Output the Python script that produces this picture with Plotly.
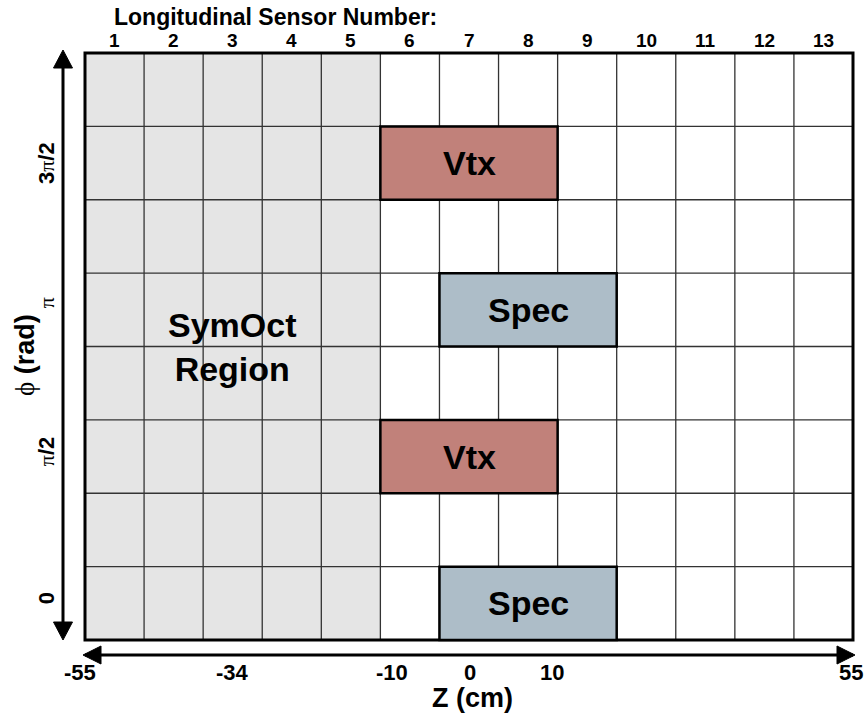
import plotly.graph_objects as go

# ---- detector layout data ----
sensor_numbers = list(range(1, 14))          # longitudinal sensor columns
n_phi_bins = 8                                # azimuthal rows
symoct_sensors = [1, 2, 3, 4, 5]              # shaded SymOct region
module_names = ["Spec", "Vtx", "Spec", "Vtx"]
module_first_sensor = [7, 6, 7, 6]
module_last_sensor = [9, 8, 9, 8]
module_phi_bin = [0, 2, 4, 6]                 # counted from phi = 0 (bottom)
module_colors = {"Vtx": "#c1817a", "Spec": "#adbdc8"}

z_tick_labels = ["-55", "-34", "-10", "0", "10", "55"]
z_tick_pos = [-0.08, 2.49, 5.2, 6.52, 7.9, 12.97]     # sensor-column units
phi_tick_labels = ["0", "π/2", "π", "3π/2"]
phi_tick_pos = [0.57, 2.56, 4.59, 6.5]                # phi-bin units

# ---- geometry of the canvas (pixels per unit) ----
W, H = 868, 713
UX = 768 / len(sensor_numbers)
UY = 587 / n_phi_bins
X0, YB = 85, 640
xr = [-X0 / UX, (W - X0) / UX]
yr = [-(H - YB) / UY, YB / UY]


def px(p):
    return p / UX


def py(p):
    return p / UY


SANS = "Liberation Sans, Arial, sans-serif"
SERIF = "Liberation Serif, Times New Roman, serif"

fig = go.Figure()
shapes = []
annotations = []

n_cols = len(sensor_numbers)

# shaded SymOct region
shapes.append(dict(type="rect", x0=min(symoct_sensors) - 1, x1=max(symoct_sensors),
                   y0=0, y1=n_phi_bins, fillcolor="#e5e5e5",
                   line=dict(width=0), layer="below"))

# grid lines
for i in range(1, n_cols):
    shapes.append(dict(type="line", x0=i, x1=i, y0=0, y1=n_phi_bins,
                       line=dict(color="#333333", width=1.3)))
for j in range(1, n_phi_bins):
    shapes.append(dict(type="line", x0=0, x1=n_cols, y0=j, y1=j,
                       line=dict(color="#333333", width=1.3)))

# outer frame
shapes.append(dict(type="rect", x0=0, x1=n_cols, y0=0, y1=n_phi_bins,
                   line=dict(color="black", width=3)))

# modules
for name, s0, s1, b in zip(module_names, module_first_sensor,
                           module_last_sensor, module_phi_bin):
    shapes.append(dict(type="rect", x0=s0 - 1, x1=s1, y0=b, y1=b + 1,
                       fillcolor=module_colors[name],
                       line=dict(color="black", width=2.5)))
    annotations.append(dict(x=(s0 - 1 + s1) / 2, y=b + 0.5, text=f"<b>{name}</b>",
                            showarrow=False, font=dict(family=SANS, size=34, color="black")))

# SymOct label
annotations.append(dict(x=(min(symoct_sensors) - 1 + max(symoct_sensors)) / 2,
                        y=n_phi_bins / 2, text="<b>SymOct<br>Region</b>",
                        showarrow=False,
                        font=dict(family=SANS, size=34, color="black")))

# sensor numbers along the top
for k in sensor_numbers:
    annotations.append(dict(x=k - 0.5, y=n_phi_bins + py(13), text=f"<b>{k}</b>",
                            showarrow=False, font=dict(family=SANS, size=19, color="black")))
annotations.append(dict(x=px(275 - X0), y=n_phi_bins + py(36),
                        text="<b>Longitudinal Sensor Number:</b>", showarrow=False,
                        font=dict(family=SANS, size=23, color="black")))

# Z axis arrow
ya = -py(15)
shapes.append(dict(type="line", x0=-px(0), x1=n_cols + px(0), y0=ya, y1=ya,
                   line=dict(color="black", width=3)))
for tip, sgn in ((-px(2), 1), (n_cols + px(2), -1)):
    base = tip + sgn * px(18)
    shapes.append(dict(type="path",
                       path=f"M {tip},{ya} L {base},{ya + py(9)} L {base},{ya - py(9)} Z",
                       fillcolor="black", line=dict(color="black", width=1)))

# Z tick labels
for lab, pos in zip(z_tick_labels, z_tick_pos):
    annotations.append(dict(x=pos, y=-py(32), text=f"<b>{lab}</b>", showarrow=False,
                            font=dict(family=SANS, size=22, color="black")))
annotations.append(dict(x=px(472 - X0), y=-py(58), text="<b>Z (cm)</b>", showarrow=False,
                        font=dict(family=SANS, size=27, color="black")))

# phi axis arrow
xa = -px(22)
shapes.append(dict(type="line", x0=xa, x1=xa, y0=py(5), y1=n_phi_bins - py(5),
                   line=dict(color="black", width=3)))
for tip, sgn in ((n_phi_bins + py(3), -1), (0, 1)):
    base = tip + sgn * py(18)
    shapes.append(dict(type="path",
                       path=f"M {xa},{tip} L {xa + px(9.5)},{base} L {xa - px(9.5)},{base} Z",
                       fillcolor="black", line=dict(color="black", width=1)))

# phi tick labels (rotated)
for lab, pos in zip(phi_tick_labels, phi_tick_pos):
    parts = []
    for ch in lab:
        if ch == "π":
            parts.append(f"<span style='font-family:{SERIF}'>π</span>")
        else:
            parts.append(f"<b>{ch}</b>")
    annotations.append(dict(x=-px(39), y=pos, text="".join(parts), showarrow=False,
                            textangle=-90,
                            font=dict(family=SANS, size=22, color="black")))
annotations.append(dict(x=-px(60), y=py(640 - 355),
                        text=f"<span style='font-family:{SERIF}'>ϕ</span><b> (rad)</b>",
                        showarrow=False, textangle=-90,
                        font=dict(family=SANS, size=27, color="black")))

fig.update_layout(
    width=W, height=H,
    margin=dict(l=0, r=0, t=0, b=0),
    plot_bgcolor="white", paper_bgcolor="white",
    xaxis=dict(range=xr, visible=False, fixedrange=True),
    yaxis=dict(range=yr, visible=False, fixedrange=True),
    shapes=shapes, annotations=annotations,
    showlegend=False,
)

fig.write_html("out.html")
